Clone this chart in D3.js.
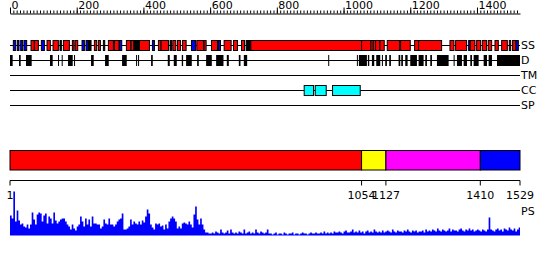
<!DOCTYPE html>
<html><head><meta charset="utf-8">
<script src="https://cdn.jsdelivr.net/npm/d3@7"></script>
<style>body{margin:0;background:#fff}svg{display:block}text{font-family:"DejaVu Sans",sans-serif;font-size:11px;fill:#000}</style>
</head><body><svg id="c" width="550" height="260"></svg>
<script>
const seqLength = 1529;
const trackNames = ["SS","D","TM","CC","SP"];
// secondary structure: type, start, end (H helix, E strand, C other)
const ssType  = ["E","E","E","E","H","H","E","H","H","C","H","H","H","E","E","C","H","H","C","H","H","E","H","H","C","H","E","H","H","C","H","H","H","E","H","H","H","E","H","H","H","C","H","H","H","H","H","H","H","H","H","H","H","H","H","E","H","H","H","H","H","H","H","H","E"];
const ssStart = [10,22,32,42,63,73,94,111,129,150,160,187,195,216,228,235,253,265,280,295,313,328,349,363,372,388,427,445,453,480,488,502,517,544,560,582,604,625,642,670,694,708,722,1054,1082,1089,1096,1109,1131,1171,1213,1225,1319,1336,1379,1375,1399,1416,1434,1454,1474,1497,1507,1507,1517];
const ssEnd   = [17,27,38,50,73,85,103,121,145,154,178,192,203,223,235,243,260,271,284,310,327,335,362,371,388,418,433,453,475,484,497,511,528,556,580,588,622,631,663,682,703,722,1054,1082,1089,1096,1109,1122,1168,1200,1225,1294,1331,1369,1394,1379,1411,1429,1444,1464,1491,1501,1517,1517,1524];
// disorder segments
const disStart = [0,27,48,120,144,155,174,192,243,285,336,378,384,423,473,491,515,528,561,588,618,650,686,701,954,1040,1046,1073,1085,1098,1115,1125,1137,1165,1173,1185,1200,1225,1245,1260,1280,1330,1340,1360,1380,1390,1420,1435,1460];
const disEnd   = [8,32,65,128,147,158,188,194,251,296,350,381,386,428,479,500,519,545,566,605,640,656,691,711,957,1043,1070,1077,1092,1110,1118,1130,1142,1170,1178,1192,1220,1240,1250,1265,1315,1333,1355,1370,1385,1405,1430,1445,1529];
// coiled coils
const ccStart = [882,915,967];
const ccEnd   = [910,948,1050];
// domain bar
const domStart = [1,1054,1127,1410];
const domEnd   = [1054,1127,1410,1529];
const domColor = ["#ff0000","#ffff00","#ff00ff","#0000ff"];
const bottomTicks = [1,1054,1127,1410,1529];
// PS score per 5-residue bin
const psBin = 5;
const psValues = [
20,17,44,14,25,15,11,12,9,8, 11,7,11,23,16,11,21,23,22,14, 20,22,12,19,17,12,23,15,12,14,
16,17,17,14,11,9,6,11,7,5, 9,11,19,14,9,17,11,16,9,19, 12,12,11,11,7,9,16,12,11,17,
11,11,9,11,14,16,17,22,6,6, 7,9,16,11,14,12,11,14,11,15, 13,19,26,22,11,8,6,12,11,12,
9,10,6,11,7,14,17,19,17,14, 7,9,7,12,13,12,11,14,11,8, 21,29,16,11,17,11,6,3,3,2,
2,3,2,4,3,2,6,3,2,3,5,2,6,3,2,3,2,4,3,2,6,2,3,4,2,3,2,6,3,2,4,3,2,3,6,2,
2,1,2,3,1,2,2,1,3,2,1,2,2,3,1,2,2,1,2,3,2,2,1,2,3,2,2,3,2,2,3,2,4,2,3,2,3,2,4,3,
3,4,3,2,4,5,3,3,4,6,3,4,3,5,3,4,2,4,5,3,4,3,6,4,3,4,3,5,3,4,5,4,3,6,4,3,5,4,4,3,5,4,6,4,3,5,4,5,3,4,
4,5,3,6,4,5,4,6,5,4, 7,5,4,6,5,4,5,7,4,6, 5,5,4,6,7,5,4,6,5,7, 5,6,4,5,6,5,4,6,5,4, 6,18,6,5,4,6,7,5,6,4, 7,6,5,8,6,5,7,4,6,8];

const svg = d3.select("#c");
const x = d3.scaleLinear().domain([0, seqLength]).range([10, 520]);
const ssColor = {H:"#ff0000", E:"#0000ff", C:"#000000"};

// top ruler
const rulerMinor = svg.append("g").attr("transform","translate(0,13.5)");
rulerMinor.call(d3.axisTop(x).tickValues(d3.range(0,1521,10)).tickSize(3).tickSizeOuter(0).tickFormat(""));
const rulerMajor = svg.append("g").attr("transform","translate(0,13.5)");
rulerMajor.call(d3.axisTop(x).tickValues(d3.range(0,1401,200)).tickSize(6).tickSizeOuter(0).tickFormat(d3.format("d")));
rulerMajor.select(".domain").remove();
rulerMajor.selectAll("text").attr("text-anchor","start").attr("x",1).attr("y",-4.5).attr("dy",0).style("font-size","11px");
svg.selectAll(".tick line").attr("stroke","#000");

// tracks
const trackY = d3.scalePoint().domain(trackNames).range([45.5,105.5]);
svg.selectAll("line.track").data(trackNames).join("line").attr("class","track")
  .attr("x1",x(0)).attr("x2",x(seqLength)).attr("y1",d=>trackY(d)).attr("y2",d=>trackY(d))
  .attr("stroke","#000");
svg.selectAll("text.tname").data(trackNames).join("text").attr("class","tname")
  .attr("x",521).attr("y",d=>trackY(d)).attr("dy","0.36em").text(d=>d);

// SS
svg.selectAll("rect.ss").data(ssType.map((t,i)=>({t,s:ssStart[i],e:ssEnd[i]}))).join("rect").attr("class","ss")
  .attr("x",d=>x(d.s)).attr("width",d=>Math.max(0.5,x(d.e)-x(d.s)))
  .attr("y",trackY("SS")-5).attr("height",10)
  .attr("fill",d=>ssColor[d.t]).attr("stroke","#000").attr("stroke-width",1);
// D
svg.selectAll("rect.dis").data(disStart.map((s,i)=>({s,e:disEnd[i]}))).join("rect").attr("class","dis")
  .attr("x",d=>x(d.s)).attr("width",d=>Math.max(1,x(d.e)-x(d.s)))
  .attr("y",trackY("D")-5.5).attr("height",11).attr("fill","#000");
// CC
svg.selectAll("rect.cc").data(ccStart.map((s,i)=>({s,e:ccEnd[i]}))).join("rect").attr("class","cc")
  .attr("x",d=>x(d.s)).attr("width",d=>x(d.e)-x(d.s))
  .attr("y",trackY("CC")-5).attr("height",10).attr("fill","#00ffff").attr("stroke","#000");

// domain bar
svg.selectAll("rect.dom").data(domStart.map((s,i)=>({s,e:domEnd[i],c:domColor[i]}))).join("rect").attr("class","dom")
  .attr("x",d=>x(d.s===1?0:d.s)).attr("width",d=>x(d.e)-x(d.s===1?0:d.s))
  .attr("y",150.5).attr("height",19.5).attr("fill",d=>d.c).attr("stroke","#000");

// PS plot
const yPS = d3.scaleLinear().domain([0,45]).range([235.5,190.5]);
const psPts = psValues.map((v,i)=>({p:i*psBin, v}));
psPts.push({p:seqLength, v:psValues[psValues.length-1]});
svg.append("path").datum(psPts)
  .attr("d", d3.area().curve(d3.curveStepAfter).x(d=>x(Math.min(d.p,seqLength))).y0(yPS(0)).y1(d=>yPS(d.v)))
  .attr("fill","#0000ff");

// bottom axis
const bot = svg.append("g").attr("transform","translate(0,180.5)");
bot.call(d3.axisBottom(x).tickValues(bottomTicks).tickSize(5).tickSizeOuter(0).tickFormat(d3.format("d")));
bot.select(".domain").attr("d",`M${x(0)},0H${x(seqLength)}`);
bot.selectAll(".tick").attr("transform",d=>`translate(${x(d===1?0:d)},0)`);
bot.selectAll("text").attr("y",11).attr("dy","0.71em").style("font-size","11px");
bot.selectAll(".tick line").attr("stroke","#000");
svg.append("text").attr("x",521).attr("y",215).text("PS");
svg.selectAll(".domain").attr("stroke","#000");
</script></body></html>
